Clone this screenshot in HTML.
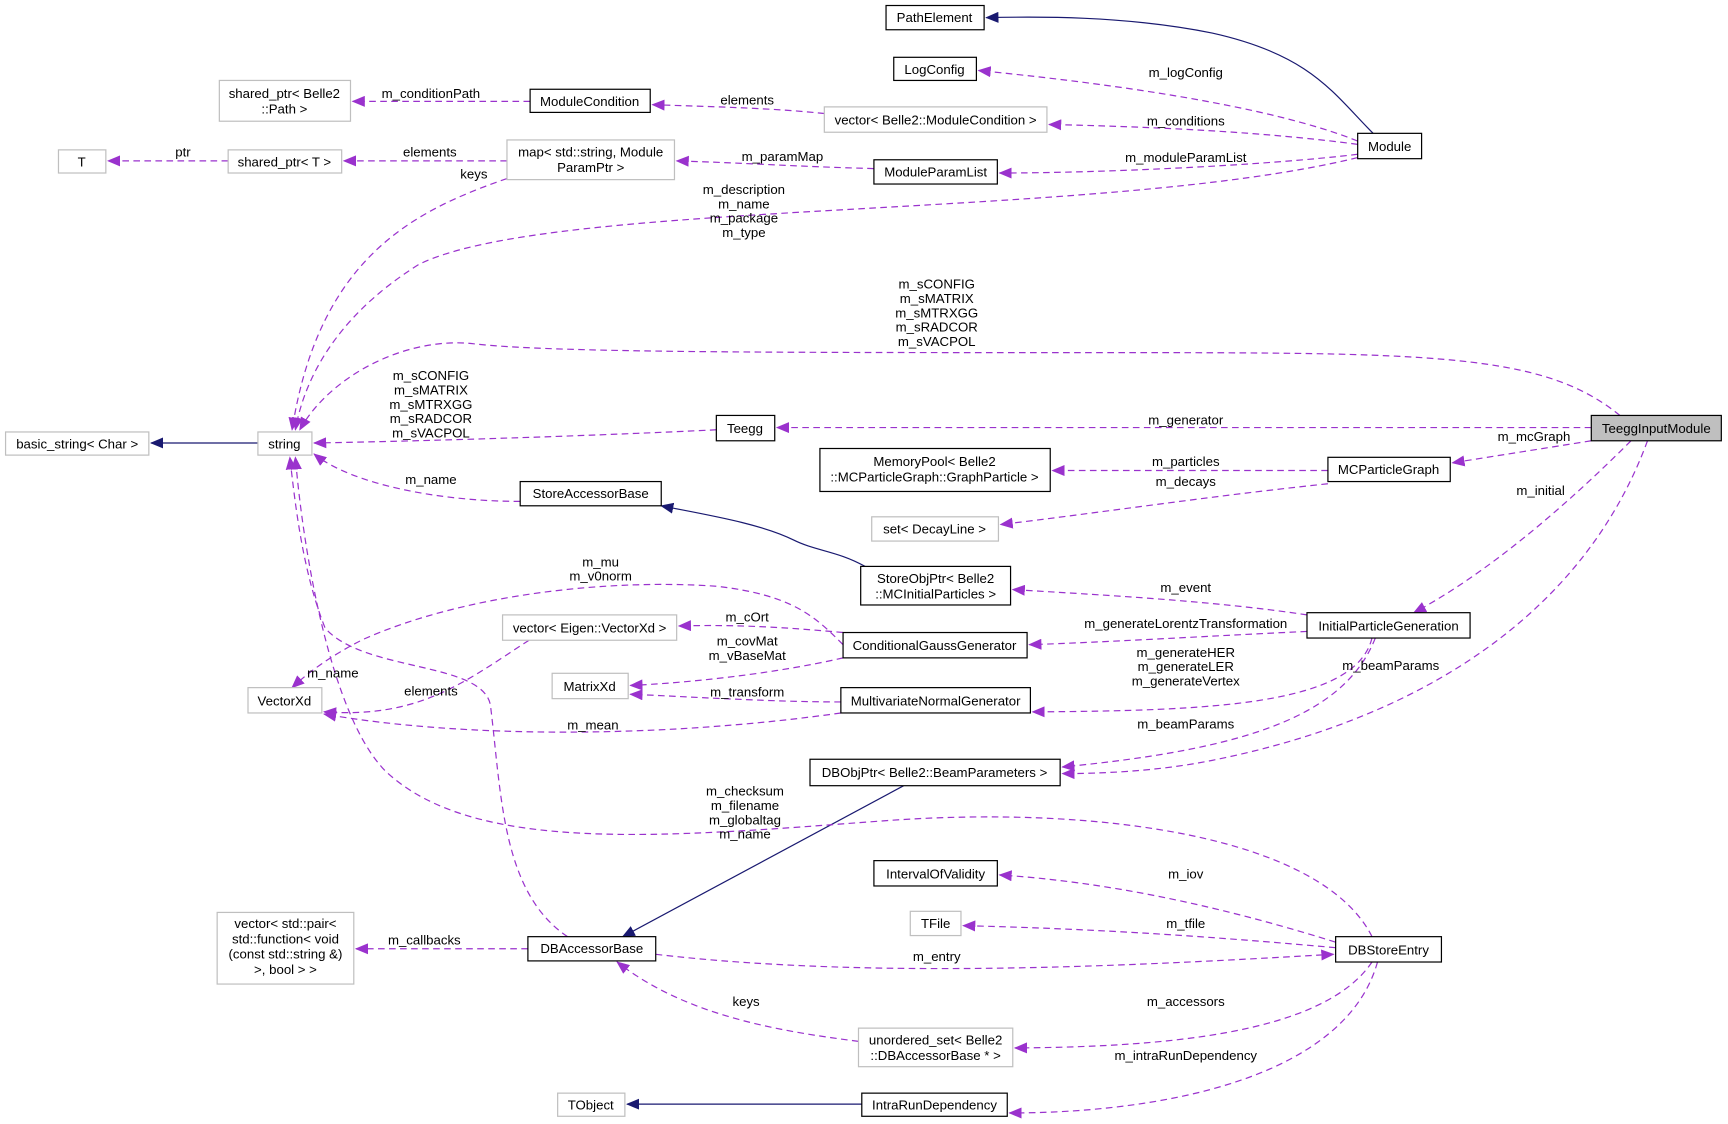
<!DOCTYPE html>
<html><head><meta charset="utf-8"><style>
html,body{margin:0;padding:0;background:#fff;}
svg{display:block;}
text{font-family:"Liberation Sans",Arial,sans-serif;font-size:12px;fill:#000;}
.n{fill:#fff;stroke:#000;stroke-width:1.1;}
.g{fill:#fff;stroke:#bfbfbf;stroke-width:1.1;}
.e{fill:none;stroke:#9a32cd;stroke-width:1.1;stroke-dasharray:6,4;marker-end:url(#pa);}
.h{fill:none;stroke:#191970;stroke-width:1.1;marker-end:url(#na);}
</style></head><body>
<svg width="1728" height="1124" viewBox="0 0 1568 1020" xmlns="http://www.w3.org/2000/svg">
<defs>
<marker id="pa" markerWidth="12" markerHeight="10" refX="11" refY="5" orient="auto" markerUnits="userSpaceOnUse"><path d="M0,0 L12,5 L0,10 z" fill="#9a32cd"/></marker>
<marker id="na" markerWidth="12" markerHeight="10" refX="11" refY="5" orient="auto" markerUnits="userSpaceOnUse"><path d="M0,0 L12,5 L0,10 z" fill="#191970"/></marker>
</defs>
<!-- edges -->
<path class="h" d="M1246,121 C1210,85 1190,50 1100,30 C1020,14 940,15 895,16"/>
<path class="e" d="M1232,128 C1150,95 1000,75 888,64"/>
<path class="e" d="M1232,131 C1150,120 1050,115 952,113"/>
<path class="e" d="M748,103 C700,98 650,97 592,95"/>
<path class="e" d="M481,92 L320,92"/>
<path class="e" d="M1232,140 C1150,150 1000,157 907,157"/>
<path class="e" d="M793,153 C720,151 680,148 614,146"/>
<path class="e" d="M460,146 L312,146"/>
<path class="e" d="M207,146 L98,146"/>
<path class="e" d="M460,162 C380,190 290,230 265,390"/>
<path class="e" d="M1232,143 C1000,200 500,180 380,240 C300,290 275,350 268,390"/>
<path class="e" d="M1470,377 C1400,320 1300,320 1000,320 C700,320 500,320 430,312 C370,305 300,340 272,390"/>
<path class="e" d="M650,390 C550,395 400,400 285,402"/>
<path class="e" d="M1444,388 L705,388"/>
<path class="e" d="M1444,400 L1318,420"/>
<path class="e" d="M1205,427 L955,427"/>
<path class="e" d="M1205,439 C1100,450 1000,465 908,476"/>
<path class="e" d="M472,455 C400,455 320,440 285,412"/>
<path class="h" d="M785,514 C760,500 740,500 720,490 C690,475 640,467 600,459"/>
<path class="e" d="M1480,400 C1420,460 1350,520 1283,556"/>
<path class="e" d="M1186,558 C1100,545 1000,540 919,535"/>
<path class="e" d="M1186,573 C1100,577 1000,583 934,585"/>
<path class="e" d="M1245,579 C1230,640 1100,645 937,646"/>
<path class="e" d="M1248,579 C1220,650 1130,680 964,696"/>
<path class="e" d="M1495,400 C1440,550 1300,650 1100,690 C1050,700 1000,702 964,702"/>
<path class="e" d="M765,585 C740,560 720,540 650,532 C550,525 420,540 330,580 C300,595 280,610 265,624"/>
<path class="e" d="M765,574 C700,568 660,567 616,568"/>
<path class="e" d="M765,597 C700,612 620,620 572,622"/>
<path class="e" d="M480,581 C420,620 380,652 294,646"/>
<path class="e" d="M763,637 C700,637 620,632 572,630"/>
<path class="e" d="M763,647 C600,670 420,670 294,648"/>
<path class="h" d="M820,713 L565,850"/>
<path class="e" d="M515,850 C455,810 455,720 445,640 C438,600 330,610 295,570 C275,520 268,460 263,415"/>
<path class="e" d="M1245,850 C1200,760 1000,730 800,745 C600,760 430,775 350,700 C300,650 275,500 268,415"/>
<path class="e" d="M1212,855 C1100,820 1000,800 907,794"/>
<path class="e" d="M1212,860 C1100,850 1000,843 874,840"/>
<path class="e" d="M595,866 C800,890 1050,875 1210,866"/>
<path class="e" d="M479,861 L323,861"/>
<path class="e" d="M779,945 C700,935 620,920 560,873"/>
<path class="e" d="M1245,873 C1200,940 1050,950 921,951"/>
<path class="e" d="M1250,873 C1220,980 1050,1010 916,1010"/>
<path class="h" d="M782,1002 L569,1002"/>
<path class="h" d="M234,402 L137,402"/>
<!-- edge labels -->
<g text-anchor="middle">
<text x="1076" y="70">m_logConfig</text>
<text x="1076" y="114">m_conditions</text>
<text x="678" y="95">elements</text>
<text x="391" y="89">m_conditionPath</text>
<text x="1076" y="147">m_moduleParamList</text>
<text x="710" y="146">m_paramMap</text>
<text x="390" y="142">elements</text>
<text x="166" y="142">ptr</text>
<text x="430" y="162">keys</text>
<text x="675" y="176">m_description</text><text x="675" y="189">m_name</text><text x="675" y="202">m_package</text><text x="675" y="215">m_type</text>
<text x="850" y="262">m_sCONFIG</text><text x="850" y="275">m_sMATRIX</text><text x="850" y="288">m_sMTRXGG</text><text x="850" y="301">m_sRADCOR</text><text x="850" y="314">m_sVACPOL</text>
<text x="391" y="345">m_sCONFIG</text><text x="391" y="358">m_sMATRIX</text><text x="391" y="371">m_sMTRXGG</text><text x="391" y="384">m_sRADCOR</text><text x="391" y="397">m_sVACPOL</text>
<text x="1076" y="385">m_generator</text>
<text x="1392" y="400">m_mcGraph</text>
<text x="1076" y="423">m_particles</text>
<text x="1076" y="441">m_decays</text>
<text x="391" y="439">m_name</text>
<text x="1398" y="449">m_initial</text>
<text x="1076" y="537">m_event</text>
<text x="1076" y="570">m_generateLorentzTransformation</text>
<text x="1076" y="596">m_generateHER</text><text x="1076" y="609">m_generateLER</text><text x="1076" y="622">m_generateVertex</text>
<text x="1076" y="661">m_beamParams</text>
<text x="1262" y="608">m_beamParams</text>
<text x="545" y="514">m_mu</text><text x="545" y="527">m_v0norm</text>
<text x="678" y="564">m_cOrt</text>
<text x="678" y="586">m_covMat</text><text x="678" y="599">m_vBaseMat</text>
<text x="391" y="631">elements</text>
<text x="678" y="632">m_transform</text>
<text x="538" y="662">m_mean</text>
<text x="302" y="615">m_name</text>
<text x="676" y="722">m_checksum</text><text x="676" y="735">m_filename</text><text x="676" y="748">m_globaltag</text><text x="676" y="761">m_name</text>
<text x="1076" y="797">m_iov</text>
<text x="1076" y="842">m_tfile</text>
<text x="850" y="872">m_entry</text>
<text x="385" y="857">m_callbacks</text>
<text x="677" y="913">keys</text>
<text x="1076" y="913">m_accessors</text>
<text x="1076" y="962">m_intraRunDependency</text>
</g>
<!-- nodes -->
<g text-anchor="middle">
<rect class="n" x="804" y="5" width="89" height="22"/><text x="848" y="20">PathElement</text>
<rect class="n" x="811" y="52" width="75" height="21"/><text x="848" y="67">LogConfig</text>
<rect class="n" x="481" y="81" width="109" height="21"/><text x="535" y="96">ModuleCondition</text>
<rect class="g" x="199" y="73" width="119" height="37"/><text x="258" y="89">shared_ptr&lt; Belle2</text><text x="258" y="103">::Path &gt;</text>
<rect class="g" x="748" y="97" width="202" height="23"/><text x="849" y="113">vector&lt; Belle2::ModuleCondition &gt;</text>
<rect class="n" x="1232" y="121" width="58" height="23"/><text x="1261" y="137">Module</text>
<rect class="g" x="53" y="136" width="43" height="21"/><text x="74" y="151">T</text>
<rect class="g" x="207" y="136" width="103" height="21"/><text x="258" y="151">shared_ptr&lt; T &gt;</text>
<rect class="g" x="460" y="127" width="152" height="36"/><text x="536" y="142">map&lt; std::string, Module</text><text x="536" y="156">ParamPtr &gt;</text>
<rect class="n" x="793" y="145" width="112" height="22"/><text x="849" y="160">ModuleParamList</text>
<rect class="g" x="5" y="392" width="130" height="21"/><text x="70" y="407">basic_string&lt; Char &gt;</text>
<rect class="g" x="234" y="392" width="49" height="21"/><text x="258" y="407">string</text>
<rect class="n" x="650" y="377" width="53" height="23"/><text x="676" y="393">Teegg</text>
<rect x="1444" y="377" width="118" height="23" fill="#bfbfbf" stroke="#000" stroke-width="1.1"/><text x="1503" y="393">TeeggInputModule</text>
<rect class="n" x="744" y="407" width="209" height="39"/><text x="848" y="423">MemoryPool&lt; Belle2</text><text x="848" y="437">::MCParticleGraph::GraphParticle &gt;</text>
<rect class="n" x="1205" y="415" width="111" height="22"/><text x="1260" y="430">MCParticleGraph</text>
<rect class="n" x="472" y="437" width="128" height="22"/><text x="536" y="452">StoreAccessorBase</text>
<rect class="g" x="791" y="469" width="115" height="22"/><text x="848" y="484">set&lt; DecayLine &gt;</text>
<rect class="n" x="781" y="514" width="136" height="35"/><text x="849" y="529">StoreObjPtr&lt; Belle2</text><text x="849" y="543">::MCInitialParticles &gt;</text>
<rect class="g" x="456" y="558" width="158" height="23"/><text x="535" y="574">vector&lt; Eigen::VectorXd &gt;</text>
<rect class="n" x="765" y="574" width="167" height="23"/><text x="848" y="590">ConditionalGaussGenerator</text>
<rect class="n" x="1186" y="556" width="148" height="23"/><text x="1260" y="572">InitialParticleGeneration</text>
<rect class="g" x="225" y="624" width="67" height="23"/><text x="258" y="640">VectorXd</text>
<rect class="g" x="501" y="611" width="69" height="23"/><text x="535" y="627">MatrixXd</text>
<rect class="n" x="763" y="624" width="172" height="23"/><text x="849" y="640">MultivariateNormalGenerator</text>
<rect class="n" x="735" y="689" width="227" height="24"/><text x="848" y="705">DBObjPtr&lt; Belle2::BeamParameters &gt;</text>
<rect class="n" x="793" y="781" width="112" height="23"/><text x="849" y="797">IntervalOfValidity</text>
<rect class="g" x="826" y="827" width="46" height="22"/><text x="849" y="842">TFile</text>
<rect class="g" x="197" y="828" width="124" height="65"/><text x="259" y="842">vector&lt; std::pair&lt;</text><text x="259" y="856">std::function&lt; void</text><text x="259" y="870">(const std::string &amp;)</text><text x="259" y="884">&gt;, bool &gt; &gt;</text>
<rect class="n" x="479" y="850" width="116" height="22"/><text x="537" y="865">DBAccessorBase</text>
<rect class="n" x="1212" y="850" width="96" height="23"/><text x="1260" y="866">DBStoreEntry</text>
<rect class="g" x="779" y="933" width="140" height="35"/><text x="849" y="948">unordered_set&lt; Belle2</text><text x="849" y="962">::DBAccessorBase * &gt;</text>
<rect class="g" x="506" y="992" width="61" height="21"/><text x="536" y="1007">TObject</text>
<rect class="n" x="782" y="992" width="132" height="21"/><text x="848" y="1007">IntraRunDependency</text>
</g>
</svg>
</body></html>
